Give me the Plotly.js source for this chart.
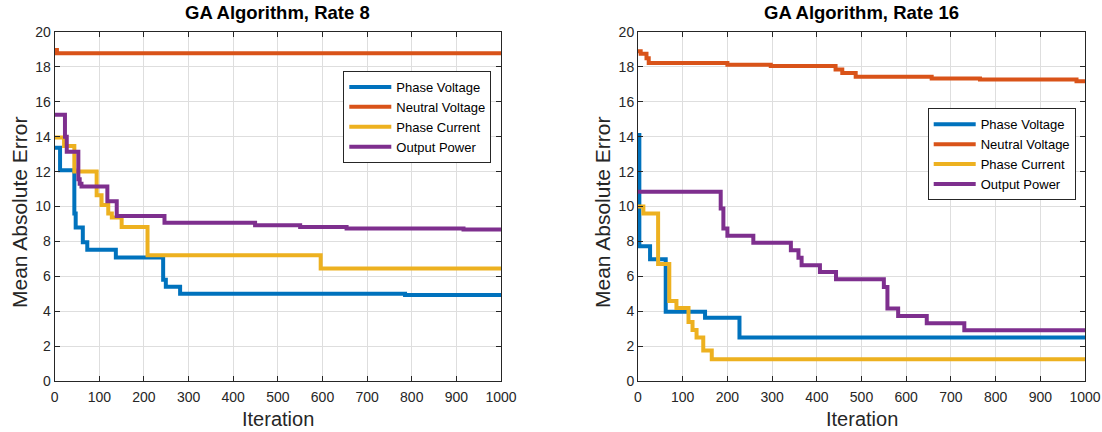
<!DOCTYPE html>
<html>
<head>
<meta charset="utf-8">
<script src="https://cdn.plot.ly/plotly-3.0.1.min.js"></script>
<style>
html,body{margin:0;padding:0;background:#fff;}
#chart{width:1102px;height:432px;}
</style>
</head>
<body>
<div id="chart"></div>
<script>
// ---- Data ----
const seriesNames = ["Phase Voltage", "Neutral Voltage", "Phase Current", "Output Power"];
const seriesColors = ["#0072BD", "#D95319", "#EDB120", "#7E2F8E"];
const panelTitles = ["GA Algorithm, Rate 8", "GA Algorithm, Rate 16"];
const xTickVals = [0, 100, 200, 300, 400, 500, 600, 700, 800, 900, 1000];
const yTickVals = [0, 2, 4, 6, 8, 10, 12, 14, 16, 18, 20];

// Rate 8 (step changes: iteration where the value starts, value)
const r8PhaseVoltageX = [0, 12, 44, 47, 63, 73, 137, 243, 249, 281, 785, 1000];
const r8PhaseVoltageY = [13.37, 12.08, 9.6, 8.8, 7.95, 7.52, 7.08, 5.8, 5.4, 5.0, 4.93, 4.93];
const r8NeutralVoltageX = [0, 5, 1000];
const r8NeutralVoltageY = [18.97, 18.78, 18.78];
const r8PhaseCurrentX = [0, 21, 44, 94, 105, 120, 128, 150, 208, 596, 1000];
const r8PhaseCurrentY = [13.96, 13.46, 12.0, 10.65, 10.08, 9.6, 9.37, 8.83, 7.21, 6.44, 6.42];
const r8OutputPowerX = [0, 23, 27, 53, 56, 60, 118, 139, 246, 449, 550, 654, 916, 1000];
const r8OutputPowerY = [15.26, 14.0, 13.14, 11.56, 11.3, 11.14, 10.3, 9.46, 9.07, 8.93, 8.83, 8.74, 8.68, 8.68];

// Rate 16
const r16PhaseVoltageX = [0, 3, 27, 62, 150, 227, 1000];
const r16PhaseVoltageY = [14.1, 7.72, 6.97, 3.97, 3.63, 2.5, 2.5];
const r16NeutralVoltageX = [0, 6, 19, 24, 200, 297, 442, 457, 487, 657, 765, 981, 1000];
const r16NeutralVoltageY = [18.9, 18.76, 18.5, 18.22, 18.13, 18.05, 17.85, 17.65, 17.44, 17.33, 17.28, 17.18, 17.18];
const r16PhaseCurrentX = [0, 12, 45, 70, 86, 113, 122, 131, 146, 165, 1000];
const r16PhaseCurrentY = [10.0, 9.6, 6.7, 4.58, 4.19, 3.38, 2.92, 2.5, 1.75, 1.25, 1.25];
const r16OutputPowerX = [0, 185, 191, 200, 258, 342, 359, 366, 407, 443, 550, 558, 582, 646, 730, 1000];
const r16OutputPowerY = [10.84, 9.89, 8.74, 8.32, 7.92, 7.5, 7.07, 6.63, 6.25, 5.83, 5.39, 4.15, 3.73, 3.31, 2.91, 2.91];

const panels = [
  [[r8PhaseVoltageX, r8PhaseVoltageY], [r8NeutralVoltageX, r8NeutralVoltageY], [r8PhaseCurrentX, r8PhaseCurrentY], [r8OutputPowerX, r8OutputPowerY]],
  [[r16PhaseVoltageX, r16PhaseVoltageY], [r16NeutralVoltageX, r16NeutralVoltageY], [r16PhaseCurrentX, r16PhaseCurrentY], [r16OutputPowerX, r16OutputPowerY]]
];

// ---- Layout geometry ----
const W = 1102, H = 432;
const plotTop = 32, plotBottom = 381;
const xDomains = [[54.7 / W, 501 / W], [638 / W, 1085 / W]];
const yDomain = [1 - plotBottom / H, 1 - plotTop / H];
const FONT = "Liberation Sans, Arial, Helvetica, sans-serif";
const AX = "#262626";

const traces = [];
panels.forEach((series, p) => {
  series.forEach((s, i) => {
    traces.push({
      x: s[0], y: s[1], type: "scatter", mode: "lines",
      line: {shape: "hv", color: seriesColors[i], width: 4},
      name: seriesNames[i],
      xaxis: p === 0 ? "x" : "x2",
      yaxis: p === 0 ? "y" : "y2",
      legend: p === 0 ? "legend" : "legend2",
      showlegend: true
    });
  });
});

function xAxis(p) {
  return {
    domain: xDomains[p], anchor: p === 0 ? "y" : "y2",
    range: [0, 1000], tickvals: xTickVals, ticktext: xTickVals.map(String),
    showline: true, mirror: "ticks", linecolor: AX, linewidth: 1,
    ticks: "inside", ticklen: 5, tickcolor: AX, tickwidth: 1,
    ticklabelstandoff: 3,
    showgrid: true, gridcolor: "#dedede", gridwidth: 1, zeroline: false,
    tickfont: {family: FONT, size: 14, color: AX}, fixedrange: true
  };
}
function yAxis(p) {
  return {
    domain: yDomain, anchor: p === 0 ? "x" : "x2",
    range: [0, 20], tickvals: yTickVals, ticktext: yTickVals.map(String),
    showline: true, mirror: "ticks", linecolor: AX, linewidth: 1,
    ticks: "inside", ticklen: 5, tickcolor: AX, tickwidth: 1,
    showgrid: true, gridcolor: "#dedede", gridwidth: 1, zeroline: false,
    tickfont: {family: FONT, size: 14, color: AX}, fixedrange: true
  };
}
function legendBox(x, y) {
  return {
    x: x, y: y, xanchor: "left", yanchor: "top", xref: "paper", yref: "paper",
    bgcolor: "#ffffff", bordercolor: "#262626", borderwidth: 1,
    font: {family: FONT, size: 13, color: "#000"}, tracegroupgap: 0,
    itemwidth: 42
  };
}

const annotations = [];
panelTitles.forEach((t, p) => {
  const cx = (xDomains[p][0] + xDomains[p][1]) / 2;
  annotations.push({text: "<b>" + t + "</b>", x: cx, y: 1 - 13 / H, xref: "paper", yref: "paper",
    xanchor: "center", yanchor: "middle", showarrow: false, font: {family: FONT, size: 18.5, color: "#000"}});
  annotations.push({text: "Iteration", x: cx, y: 1 - 419 / H, xref: "paper", yref: "paper",
    xanchor: "center", yanchor: "middle", showarrow: false, font: {family: FONT, size: 20, color: AX}});
  annotations.push({text: "Mean Absolute Error", x: (p === 0 ? 19 : 602) / W, y: 1 - 213 / H, xref: "paper", yref: "paper",
    xanchor: "center", yanchor: "middle", textangle: -90, showarrow: false, font: {family: FONT, size: 21, color: AX}});
});

const layout = {
  width: W, height: H,
  margin: {l: 0, r: 0, t: 0, b: 0},
  paper_bgcolor: "#ffffff", plot_bgcolor: "#ffffff",
  xaxis: xAxis(0), yaxis: yAxis(0),
  xaxis2: xAxis(1), yaxis2: yAxis(1),
  legend: legendBox(343.3 / W, 1 - 71 / H),
  legend2: legendBox(927.7 / W, 1 - 108.3 / H),
  annotations: annotations,
  font: {family: FONT}
};

Plotly.newPlot("chart", traces, layout, {staticPlot: true, displayModeBar: false});
</script>
</body>
</html>
